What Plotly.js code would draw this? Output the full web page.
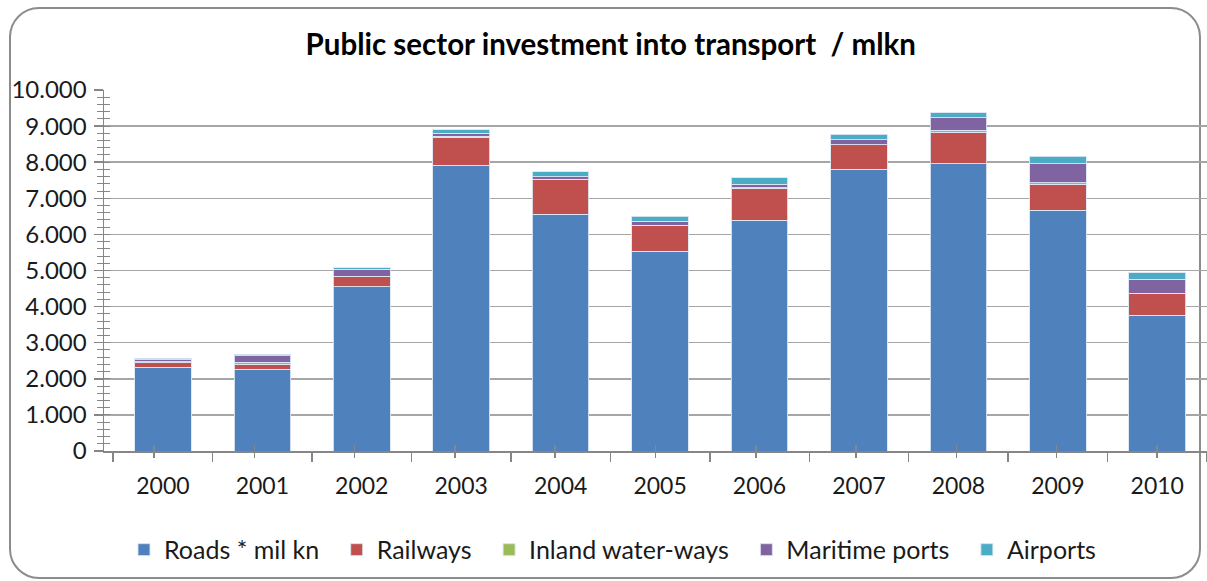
<!DOCTYPE html>
<html>
<head>
<meta charset="utf-8">
<script src="https://cdn.plot.ly/plotly-3.0.1.min.js"></script>
<style>
  html, body { margin: 0; padding: 0; background: #ffffff; }
  #frame { position: absolute; left: 9px; top: 7px; width: 1192px; height: 572px;
           border: 2px solid #8c8c8c; border-radius: 30px; box-sizing: border-box; }
  #chart { position: absolute; left: 0; top: 0; width: 1207px; height: 581px; }
</style>
</head>
<body>
<div id="frame"></div>
<div id="chart"></div>
<script>
const years = ['2000','2001','2002','2003','2004','2005','2006','2007','2008','2009','2010'];
const roads    = [2315, 2270, 4545, 7910, 6565, 5530, 6390, 7800, 7960, 6675, 3760];
const railways = [ 127,  140,  285,  785,  960,  720,  895,  685,  875,  720,  610];
const inland   = [  25,   45,    5,   25,    5,    5,    5,    5,   45,   40,    5];
const maritime = [  55,  185,  205,   85,   70,  105,  105,  135,  350,  525,  385];
const airports = [  45,   38,   40,  100,  135,  140,  175,  145,  140,  200,  175];

const seriesNames = ['Roads * mil kn', 'Railways', 'Inland water-ways', 'Maritime ports', 'Airports'];
const seriesData = [roads, railways, inland, maritime, airports];
const colors = ['#4F81BD', '#C0504D', '#9BBB59', '#8064A2', '#4BACC6'];

const FONT = 'Lato, "Open Sans", "Liberation Sans", sans-serif';
const PAD = '\u2002';

const traces = seriesData.map((vals, i) => ({
  type: 'bar',
  name: seriesNames[i] + (i < seriesNames.length - 1 ? PAD : ''),
  x: years,
  y: vals,
  marker: { color: colors[i], line: { color: 'rgba(220,230,242,0.9)', width: 1 } },
  hoverinfo: 'x+y+name'
}));

const tickIdx = years.map((_, i) => i);

const layout = {
  width: 1207, height: 581,
  paper_bgcolor: 'rgba(0,0,0,0)',
  plot_bgcolor: 'rgba(0,0,0,0)',
  margin: { l: 104, r: 0, t: 90, b: 130, pad: 0, autoexpand: false },
  separators: ',.',
  barmode: 'stack',
  bargap: 0.43,
  font: { family: FONT, size: 22, color: '#1a1a1a' },
  title: {
    text: '<b>Public sector investment into transport  / mlkn</b>',
    font: { family: FONT, size: 29.5, color: '#000000' },
    x: 0.506, xref: 'container', xanchor: 'center',
    y: 48, yref: 'container', yanchor: 'middle', automargin: false
  },
  xaxis: {
    type: 'category', automargin: false,
    tickson: 'boundaries',
    ticks: 'outside', ticklen: 9, tickwidth: 1.5, tickcolor: '#868686',
    showline: true, linecolor: '#868686', linewidth: 1.5,
    tickfont: { family: FONT, size: 23, color: '#1a1a1a' },
    ticklabelstandoff: 14,
    showgrid: false
  },
  xaxis2: {
    overlaying: 'x', type: 'linear', range: [-0.5, years.length - 0.5], automargin: false,
    tickmode: 'array', tickvals: tickIdx, showticklabels: false,
    ticks: 'inside', ticklen: 6, tickwidth: 1.5, tickcolor: '#868686',
    showgrid: false, zeroline: false, showline: false, layer: 'above traces'
  },
  xaxis3: {
    overlaying: 'x', type: 'linear', range: [-0.5, years.length - 0.5], automargin: false,
    tickmode: 'array', tickvals: tickIdx, showticklabels: false,
    ticks: 'outside', ticklen: 6, tickwidth: 1.5, tickcolor: '#868686',
    showgrid: false, zeroline: false, showline: false
  },
  yaxis: {
    range: [0, 10000], dtick: 1000, tickformat: ',d', automargin: false,
    ticks: 'outside', ticklen: 9, tickwidth: 1.5, tickcolor: '#868686',
    showline: true, linecolor: '#868686', linewidth: 1.5,
    showgrid: true, gridcolor: '#A6A6A6', gridwidth: 1.5,
    zeroline: false,
    minor: { dtick: 200, ticks: 'outside', ticklen: 6, tickcolor: '#868686', tickwidth: 1, showgrid: false },
    tickfont: { family: FONT, size: 24, color: '#1a1a1a' },
    ticklabelstandoff: 2
  },
  yaxis2: {
    overlaying: 'y', range: [0, 10000], dtick: 200, showticklabels: false, automargin: false,
    ticks: 'inside', ticklen: 6, tickwidth: 1, tickcolor: '#868686',
    showgrid: false, zeroline: false, showline: false
  },
  legend: {
    orientation: 'h',
    x: 0.461, xanchor: 'center', xref: 'paper',
    y: -0.274, yanchor: 'middle', yref: 'paper',
    font: { family: FONT, size: 25, color: '#1a1a1a' },
    traceorder: 'normal',
    itemwidth: 30
  },
  showlegend: true
};

const helperX2 = { type: 'scatter', x: [0], y: [0], xaxis: 'x2', yaxis: 'y', mode: 'markers',
  marker: { opacity: 0 }, showlegend: false, hoverinfo: 'skip' };
const helperX3 = { type: 'scatter', x: [0], y: [0], xaxis: 'x3', yaxis: 'y', mode: 'markers',
  marker: { opacity: 0 }, showlegend: false, hoverinfo: 'skip' };
const helperY2 = { type: 'scatter', x: ['2000'], y: [0], xaxis: 'x', yaxis: 'y2', mode: 'markers',
  marker: { opacity: 0 }, showlegend: false, hoverinfo: 'skip' };

Plotly.newPlot('chart', traces.concat([helperX2, helperX3, helperY2]), layout, { displayModeBar: false, staticPlot: true });
</script>
</body>
</html>
